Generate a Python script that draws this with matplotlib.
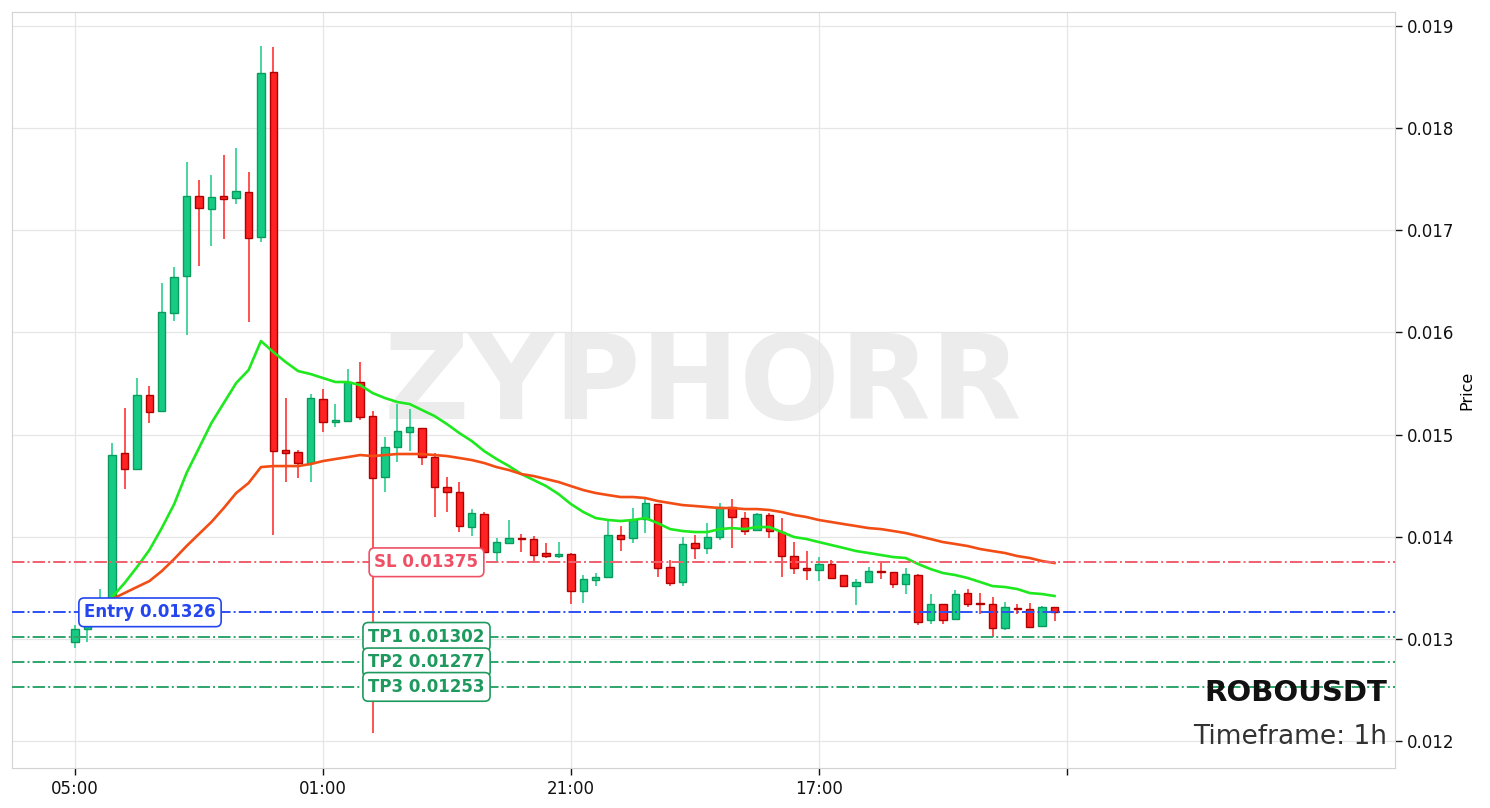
import numpy as np
import matplotlib.pyplot as plt
from matplotlib.ticker import FormatStrFormatter

symbol = "ROBOUSDT"
timeframe = "1h"

# hourly candles
opens = [0.012969, 0.013096, 0.013165, 0.013283, 0.014820, 0.014663, 0.015387, 0.015231, 0.016190, 0.016552,
         0.017336, 0.017208, 0.017336, 0.017316, 0.017375, 0.016934, 0.018550, 0.014849, 0.014829, 0.014722,
         0.015348, 0.015123, 0.015133, 0.015515, 0.015182, 0.014585, 0.014878, 0.015025, 0.015064, 0.014780,
         0.014487, 0.014438, 0.014095, 0.014222, 0.013850, 0.013938, 0.013987, 0.013978, 0.013841, 0.013811,
         0.013831, 0.013469, 0.013576, 0.013606, 0.014017, 0.013987, 0.014173, 0.014320, 0.013703, 0.013557,
         0.013938, 0.013890, 0.013997, 0.014291, 0.014183, 0.014066, 0.014213, 0.014046, 0.013811, 0.013694,
         0.013674, 0.013733, 0.013625, 0.013517, 0.013557, 0.013664, 0.013655, 0.013537, 0.013625, 0.013185,
         0.013341, 0.013194, 0.013449, 0.013351, 0.013341, 0.013106, 0.013302, 0.013292, 0.013126, 0.013312]
highs = [0.013136, 0.013204, 0.013488, 0.014917, 0.015260, 0.015554, 0.015475, 0.016484, 0.016640, 0.017668,
         0.017492, 0.017541, 0.017737, 0.017805, 0.017571, 0.018804, 0.018794, 0.015358, 0.014849, 0.015397,
         0.015446, 0.015299, 0.015642, 0.015710, 0.015231, 0.014976, 0.015299, 0.015250, 0.015064, 0.014820,
         0.014585, 0.014536, 0.014271, 0.014242, 0.013987, 0.014164, 0.014027, 0.014007, 0.013938, 0.013948,
         0.013841, 0.013625, 0.013645, 0.014173, 0.014105, 0.014281, 0.014369, 0.014320, 0.013772, 0.013997,
         0.014017, 0.014134, 0.014330, 0.014369, 0.014242, 0.014232, 0.014232, 0.014183, 0.013948, 0.013860,
         0.013801, 0.013772, 0.013625, 0.013586, 0.013703, 0.013743, 0.013655, 0.013694, 0.013635, 0.013439,
         0.013341, 0.013478, 0.013488, 0.013449, 0.013410, 0.013361, 0.013341, 0.013351, 0.013322, 0.013312]
lows = [0.012910, 0.012969, 0.013136, 0.013263, 0.014467, 0.014663, 0.015113, 0.015231, 0.016112, 0.015975,
        0.016650, 0.016846, 0.016915, 0.017257, 0.016102, 0.016885, 0.014017, 0.014536, 0.014575, 0.014536,
        0.015025, 0.015074, 0.015133, 0.015143, 0.012078, 0.014438, 0.014731, 0.014839, 0.014702, 0.014193,
        0.014242, 0.014046, 0.014007, 0.013850, 0.013752, 0.013929, 0.013850, 0.013743, 0.013792, 0.013792,
        0.013341, 0.013351, 0.013517, 0.013596, 0.013860, 0.013938, 0.014036, 0.013606, 0.013517, 0.013517,
        0.013782, 0.013831, 0.013968, 0.013890, 0.014017, 0.014056, 0.013987, 0.013606, 0.013635, 0.013576,
        0.013566, 0.013586, 0.013517, 0.013331, 0.013547, 0.013586, 0.013498, 0.013439, 0.013136, 0.013145,
        0.013145, 0.013185, 0.013312, 0.013243, 0.013018, 0.013087, 0.013243, 0.013116, 0.013116, 0.013175]
closes = [0.013096, 0.013165, 0.013283, 0.014800, 0.014663, 0.015387, 0.015221, 0.016200, 0.016543, 0.017336,
          0.017218, 0.017326, 0.017306, 0.017385, 0.016924, 0.018540, 0.014839, 0.014820, 0.014722, 0.015358,
          0.015123, 0.015143, 0.015515, 0.015172, 0.014575, 0.014878, 0.015035, 0.015074, 0.014780, 0.014487,
          0.014438, 0.014105, 0.014232, 0.013850, 0.013948, 0.013987, 0.013978, 0.013821, 0.013811, 0.013831,
          0.013469, 0.013586, 0.013606, 0.014017, 0.013978, 0.014164, 0.014330, 0.013694, 0.013547, 0.013929,
          0.013890, 0.013997, 0.014291, 0.014193, 0.014056, 0.014222, 0.014056, 0.013811, 0.013694, 0.013674,
          0.013733, 0.013596, 0.013517, 0.013557, 0.013664, 0.013655, 0.013537, 0.013635, 0.013165, 0.013341,
          0.013185, 0.013439, 0.013341, 0.013341, 0.013106, 0.013312, 0.013292, 0.013116, 0.013312, 0.013263]

# moving averages as drawn (start at the 4th candle)
ema_start = 3
ema_fast = [0.013410, 0.013547, 0.013703, 0.013870, 0.014085, 0.014320, 0.014624, 0.014868, 0.015113, 0.015309,
            0.015505, 0.015632, 0.015916, 0.015808, 0.015710, 0.015622, 0.015593, 0.015554, 0.015515, 0.015515,
            0.015485, 0.015407, 0.015358, 0.015319, 0.015299, 0.015240, 0.015182, 0.015103, 0.015015, 0.014937,
            0.014839, 0.014761, 0.014692, 0.014614, 0.014555, 0.014496, 0.014418, 0.014320, 0.014242, 0.014183,
            0.014164, 0.014154, 0.014164, 0.014183, 0.014134, 0.014075, 0.014056, 0.014046, 0.014046, 0.014075,
            0.014085, 0.014075, 0.014095, 0.014095, 0.014046, 0.013997, 0.013978, 0.013948, 0.013919, 0.013890,
            0.013860, 0.013841, 0.013821, 0.013801, 0.013792, 0.013733, 0.013684, 0.013645, 0.013625, 0.013596,
            0.013557, 0.013517, 0.013508, 0.013488, 0.013449, 0.013439, 0.013420]
ema_slow = [0.013390, 0.013449, 0.013508, 0.013566, 0.013664, 0.013782, 0.013909, 0.014027, 0.014144, 0.014281,
            0.014428, 0.014526, 0.014682, 0.014692, 0.014692, 0.014692, 0.014712, 0.014741, 0.014761, 0.014780,
            0.014800, 0.014790, 0.014800, 0.014810, 0.014810, 0.014810, 0.014800, 0.014790, 0.014771, 0.014751,
            0.014722, 0.014682, 0.014653, 0.014614, 0.014594, 0.014565, 0.014536, 0.014496, 0.014457, 0.014428,
            0.014408, 0.014389, 0.014389, 0.014379, 0.014350, 0.014330, 0.014310, 0.014301, 0.014291, 0.014281,
            0.014281, 0.014271, 0.014271, 0.014262, 0.014242, 0.014213, 0.014193, 0.014164, 0.014144, 0.014124,
            0.014105, 0.014085, 0.014075, 0.014056, 0.014036, 0.014007, 0.013978, 0.013948, 0.013929, 0.013909,
            0.013880, 0.013860, 0.013841, 0.013811, 0.013792, 0.013762, 0.013743]

entry = 0.01326
stop_loss = 0.01375
targets = [0.01302, 0.01277, 0.01253]

tick_pos = [0, 20, 40, 60, 80]
tick_labels = ["05:00", "01:00", "21:00", "17:00", ""]

up_col, up_edge = "#16cc85", "#0a9a5c"
dn_col, dn_edge = "#ff2222", "#b00000"

o = np.array(opens); h = np.array(highs); l = np.array(lows); c = np.array(closes)
x = np.arange(len(o))
up = c >= o
body_lo = np.minimum(o, c)
body_h = np.maximum(np.abs(c - o), 0.000012)

fig = plt.figure(figsize=(14.9, 8.08), dpi=100)
ax = fig.add_axes([0.00805, 0.0495, 0.9281, 0.9356])

ax.text(0.5, 0.505, "ZYPHORR", transform=ax.transAxes, ha="center", va="center",
        fontsize=85, fontweight="bold", color="#ececec", zorder=0)

# wicks then bodies
ax.vlines(x[up], l[up], h[up], color=up_col, lw=1.1, zorder=2)
ax.vlines(x[~up], l[~up], h[~up], color=dn_col, lw=1.1, zorder=2)
ax.bar(x[up], body_h[up], bottom=body_lo[up], width=0.6, color=up_col, edgecolor=up_edge, lw=1, zorder=3)
ax.bar(x[~up], body_h[~up], bottom=body_lo[~up], width=0.6, color=dn_col, edgecolor=dn_edge, lw=1, zorder=3)

xe = np.arange(ema_start, ema_start + len(ema_fast))
ax.plot(xe, ema_fast, color="#1ee81e", lw=1.9, zorder=4)
ax.plot(xe, ema_slow, color="#f24d14", lw=1.9, zorder=4)

# levels
ax.axhline(stop_loss, color="#f0606e", lw=1.4, ls="-.", zorder=4)
ax.axhline(entry, color="#2d50f5", lw=1.4, ls="-.", zorder=4)
for tp in targets:
    ax.axhline(tp, color="#2ea56b", lw=1.4, ls="-.", zorder=4)

def tag(xpos, y, s, col):
    ax.text(xpos, y, s, ha="center", va="center", fontsize=12, fontweight="bold", color=col, zorder=6,
            bbox=dict(boxstyle="round,pad=0.32", fc="white", ec=col, lw=1.2))

tag(6.05, entry, f"Entry {entry:.5f}", "#2346f0")
tag(28.35, stop_loss, f"SL {stop_loss:.5f}", "#ef5066")
for i, tp in enumerate(targets):
    tag(28.35, tp, f"TP{i+1} {tp:.5f}", "#1f9a5f")

ax.text(0.9942, 0.099, symbol, transform=ax.transAxes, ha="right", va="center",
        fontsize=21, fontweight="bold", color="#111111", zorder=6)
ax.text(0.9942, 0.041, f"Timeframe: {timeframe}", transform=ax.transAxes, ha="right", va="center",
        fontsize=19, color="#333333", zorder=6)

ax.set_xlim(-5.08, 106.45)
ax.set_ylim(0.011736, 0.019137)
ax.set_xticks(tick_pos)
ax.set_xticklabels(tick_labels)
ax.set_yticks(np.arange(0.012, 0.0191, 0.001))
ax.yaxis.set_major_formatter(FormatStrFormatter("%.3f"))
ax.yaxis.tick_right()
ax.yaxis.set_label_position("right")
ax.set_ylabel("Price", fontsize=11.5, labelpad=4)
ax.tick_params(labelsize=12, colors="#111111", length=5, width=1)
ax.grid(True, color="#e6e6e6", lw=0.9, zorder=0)
ax.set_axisbelow(True)
for sp in ax.spines.values():
    sp.set_color("#d2d2d2")

fig.savefig("out.png", dpi=100)
